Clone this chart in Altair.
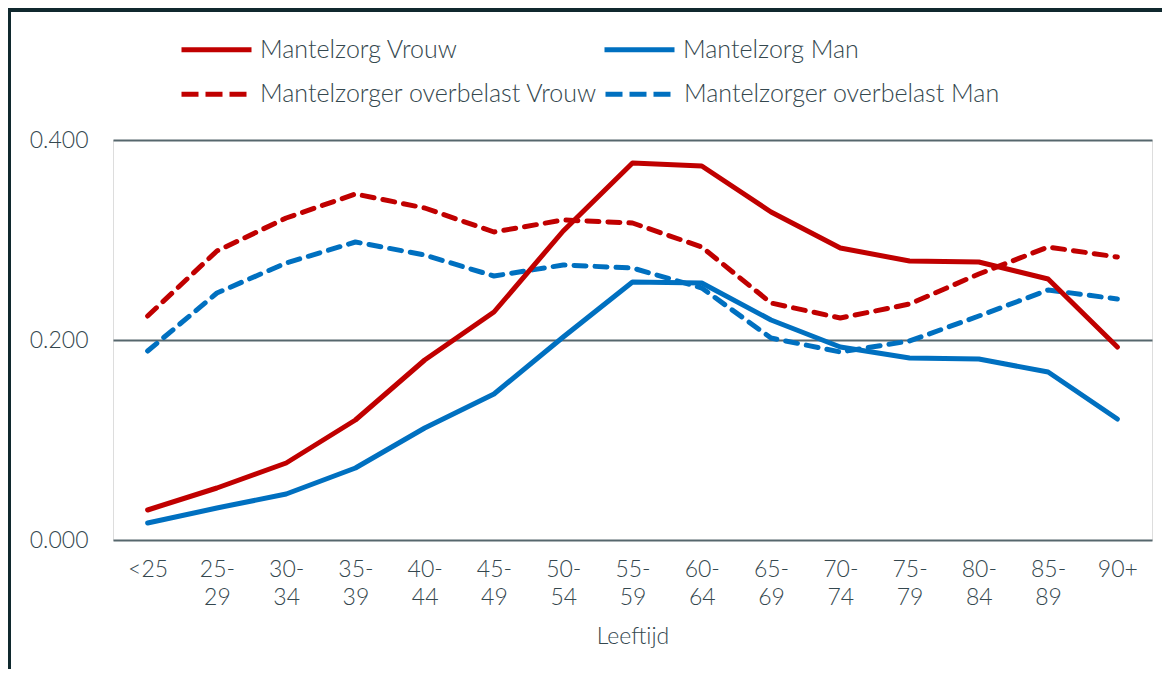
import altair as alt
import pandas as pd

ages = ["<25", "25-29", "30-34", "35-39", "40-44", "45-49", "50-54", "55-59",
        "60-64", "65-69", "70-74", "75-79", "80-84", "85-89", "90+"]

solid_names = ["Mantelzorg Vrouw", "Mantelzorg Man"]
dashed_names = ["Mantelzorger overbelast Vrouw", "Mantelzorger overbelast Man"]

mantelzorg_vrouw = [0.030, 0.052, 0.077, 0.120, 0.180, 0.228, 0.309, 0.377,
                    0.374, 0.328, 0.292, 0.279, 0.278, 0.261, 0.193]
mantelzorg_man = [0.017, 0.032, 0.046, 0.072, 0.112, 0.146, 0.203, 0.258,
                  0.257, 0.220, 0.193, 0.182, 0.181, 0.168, 0.121]
overbelast_vrouw = [0.224, 0.289, 0.322, 0.346, 0.332, 0.308, 0.320, 0.317,
                    0.293, 0.237, 0.222, 0.236, 0.266, 0.293, 0.283]
overbelast_man = [0.189, 0.247, 0.277, 0.298, 0.285, 0.264, 0.275, 0.272,
                  0.252, 0.202, 0.188, 0.199, 0.224, 0.250, 0.241]

colors = ["#C00000", "#0070C0"]

rows = []
for name, vals, kind in [(solid_names[0], mantelzorg_vrouw, "solid"),
                         (solid_names[1], mantelzorg_man, "solid"),
                         (dashed_names[0], overbelast_vrouw, "dashed"),
                         (dashed_names[1], overbelast_man, "dashed")]:
    for a, v in zip(ages, vals):
        rows.append({"Leeftijd": a, "Reeks": name, "Waarde": v, "Lijn": kind})
df = pd.DataFrame(rows)

FONT = "Lato"
TXT = "#34474E"


def make_legend(y, colpad, dash=None):
    kw = dict(title=None, orient="none", direction="horizontal",
              legendX=66, legendY=y, columns=2, columnPadding=colpad,
              symbolType="stroke", symbolSize=4900,
              symbolStrokeWidth=5, labelFontSize=25,
              labelFont=FONT, labelFontWeight=300,
              labelColor=TXT, labelOffset=6, labelLimit=0)
    if dash is not None:
        kw["symbolDash"] = dash
    return alt.Legend(**kw)


x_enc = alt.X("Leeftijd:N", sort=ages, title="Leeftijd",
              scale=alt.Scale(type="point", padding=0.5),
              axis=alt.Axis(labelAngle=0, domain=False, ticks=False, grid=False,
                            labelExpr="length(datum.label) > 3 ? [slice(datum.label, 0, 3), slice(datum.label, 3)] : datum.label",
                            labelBaseline="top", labelPadding=18, labelLineHeight=28,
                            labelFontSize=23, labelFont=FONT, labelFontWeight=300,
                            labelColor=TXT, titleFont=FONT, titleFontSize=23,
                            titleFontWeight=300, titleColor=TXT, titlePadding=16))
y_enc = alt.Y("Waarde:Q", title=None,
              scale=alt.Scale(domain=[0, 0.4], nice=False, zero=True),
              axis=alt.Axis(values=[0, 0.2, 0.4], format=".3f", domain=False, ticks=False,
                            gridColor="#56676D", gridWidth=2, gridOpacity=1,
                            labelFontSize=23, labelFont=FONT, labelFontWeight=300,
                            labelColor=TXT, labelPadding=25))

solid = alt.Chart(df).transform_filter(alt.datum.Lijn == "solid").mark_line(
    strokeWidth=5, strokeCap="round", strokeJoin="round").encode(
    x=x_enc, y=y_enc,
    color=alt.Color("Reeks:N", sort=solid_names,
                    scale=alt.Scale(domain=solid_names, range=colors),
                    legend=make_legend(-128, 136)),
)

dashed = alt.Chart(df).transform_filter(alt.datum.Lijn == "dashed").mark_line(
    strokeWidth=5, strokeCap="round", strokeJoin="round", strokeDash=[12, 9]).encode(
    x=x_enc, y=y_enc,
    color=alt.Color("Reeks:N", sort=dashed_names,
                    scale=alt.Scale(domain=dashed_names, range=colors),
                    legend=make_legend(-83.5, -3, dash=[17, 7])),
)

frame_left = alt.Chart(df).mark_rule(color="#10292E", strokeWidth=3).encode(
    x=alt.value(-103.5), y=alt.value(-130), y2=alt.value(540))
frame_top = alt.Chart(df).mark_rule(color="#10292E", strokeWidth=3).encode(
    x=alt.value(-105), x2=alt.value(1100), y=alt.value(-130))

chart = alt.layer(dashed, solid, frame_left, frame_top).resolve_scale(
    color="independent"
).properties(
    width=1039, height=400,
    autosize=alt.AutoSizeParams(type="none"),
    padding={"left": 105, "top": 132, "right": 10, "bottom": 129},
).configure_view(strokeWidth=0, stroke="transparent").configure(background="white")

chart.save("out.html", embed_options={"renderer": "svg", "actions": False})
